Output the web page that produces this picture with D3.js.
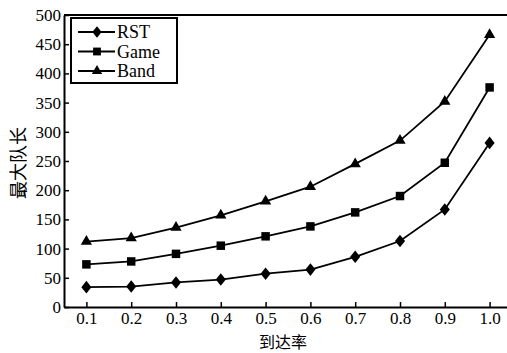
<!DOCTYPE html>
<html>
<head>
<meta charset="utf-8">
<script src="https://cdn.jsdelivr.net/npm/d3@7"></script>
<style>
  body { margin: 0; background: #fff; }
  svg { display: block; }
</style>
</head>
<body>
<div id="chart"></div>
<script>
const rates = [0.1, 0.2, 0.3, 0.4, 0.5, 0.6, 0.7, 0.8, 0.9, 1.0];
const rst  = [34, 35, 42, 47, 57, 64, 86, 113, 167, 281];
const game = [73, 78, 91, 105, 121, 138, 162, 190, 247, 376];
const band = [112, 118, 136, 157, 181, 206, 245, 285, 352, 466];
const yTicks = [0, 50, 100, 150, 200, 250, 300, 350, 400, 450, 500];
const seriesNames = ["RST", "Game", "Band"];

const serif = "'Liberation Serif', 'Times New Roman', serif";

// taller-than-wide diamond marker
const diamond = {
  draw: function(ctx, size) {
    let w = Math.sqrt(size) * 0.48, h = Math.sqrt(size) * 0.6;
    ctx.moveTo(0, -h); ctx.lineTo(w, 0); ctx.lineTo(0, h); ctx.lineTo(-w, 0); ctx.closePath();
  }
};

const series = [
  {name: seriesNames[0], values: rst,  symbol: diamond,           size: 110},
  {name: seriesNames[1], values: game, symbol: d3.symbolSquare,   size: 72},
  {name: seriesNames[2], values: band, symbol: d3.symbolTriangle, size: 55}
];

let svgWidth = 507, svgHeight = 353;
let margin = {top: 15, right: 0, bottom: 46, left: 64},
    width = svgWidth - margin.left - margin.right,
    height = svgHeight - margin.top - margin.bottom;

let svg = d3.select("#chart").append("svg")
    .attr("width", svgWidth)
    .attr("height", svgHeight);

let x = d3.scaleLinear().domain([0.05, 1.05]).range([0, 448]),
    y = d3.scaleLinear().domain([0, 500]).range([height, 0]);

let g = svg.append("g")
    .attr("transform", "translate(" + margin.left + "," + margin.top + ")");

// top border
g.append("line")
    .attr("x1", 0).attr("x2", width)
    .attr("y1", 0).attr("y2", 0)
    .attr("stroke", "#000").attr("stroke-width", 2);

let xAxis = g.append("g")
    .attr("transform", "translate(0," + height + ")")
    .call(d3.axisBottom(x).tickValues(rates).tickSize(-5).tickSizeOuter(0)
      .tickFormat(d3.format(".1f")));
xAxis.select(".domain").attr("stroke-width", 2);
xAxis.selectAll(".tick line").attr("stroke-width", 1.5);
xAxis.selectAll("text")
    .attr("y", 5).attr("dy", "0.71em")
    .attr("font-family", serif).attr("font-size", 17).attr("fill", "#000");

let yAxis = g.append("g")
    .call(d3.axisLeft(y).tickValues(yTicks).tickSize(-5).tickSizeOuter(0));
yAxis.select(".domain").attr("stroke-width", 2);
yAxis.selectAll(".tick line").attr("stroke-width", 1.5);
yAxis.selectAll("text")
    .attr("x", -3)
    .attr("font-family", serif).attr("font-size", 17).attr("fill", "#000");

// axis titles
svg.append("text")
    .attr("x", 283).attr("y", 348)
    .attr("text-anchor", "middle")
    .attr("font-family", "Noto Sans CJK SC")
    .attr("font-size", 16)
    .text("到达率");

svg.append("text")
    .attr("transform", "translate(25,163) rotate(-90)")
    .attr("text-anchor", "middle")
    .attr("font-family", "Noto Sans CJK SC")
    .attr("font-size", 18)
    .text("最大队长");

let line = d3.line()
    .x(function(d, i) { return x(rates[i]); })
    .y(function(d) { return y(d); });

series.forEach(function(s) {
  g.append("path")
      .datum(s.values)
      .attr("fill", "none")
      .attr("stroke", "#000")
      .attr("stroke-width", 1.8)
      .attr("d", line);
  g.selectAll(null)
      .data(s.values)
      .enter().append("path")
      .attr("transform", function(d, i) { return "translate(" + x(rates[i]) + "," + y(d) + ")"; })
      .attr("d", d3.symbol().type(s.symbol).size(s.size))
      .attr("fill", "#000");
});

// legend
let legend = svg.append("g").attr("transform", "translate(71,18)");
legend.append("rect")
    .attr("width", 106).attr("height", 65)
    .attr("fill", "#fff").attr("stroke", "#000").attr("stroke-width", 2);
series.forEach(function(s, i) {
  let ly = 14 + i * 19.5;
  legend.append("line")
      .attr("x1", 7).attr("x2", 44).attr("y1", ly).attr("y2", ly)
      .attr("stroke", "#000").attr("stroke-width", 1.8);
  legend.append("path")
      .attr("transform", "translate(26," + ly + ")")
      .attr("d", d3.symbol().type(s.symbol).size(s.size * 0.85))
      .attr("fill", "#000");
  legend.append("text")
      .attr("x", 46).attr("y", ly + 6)
      .attr("font-family", serif)
      .attr("font-size", 18)
      .text(s.name);
});
</script>
</body>
</html>
